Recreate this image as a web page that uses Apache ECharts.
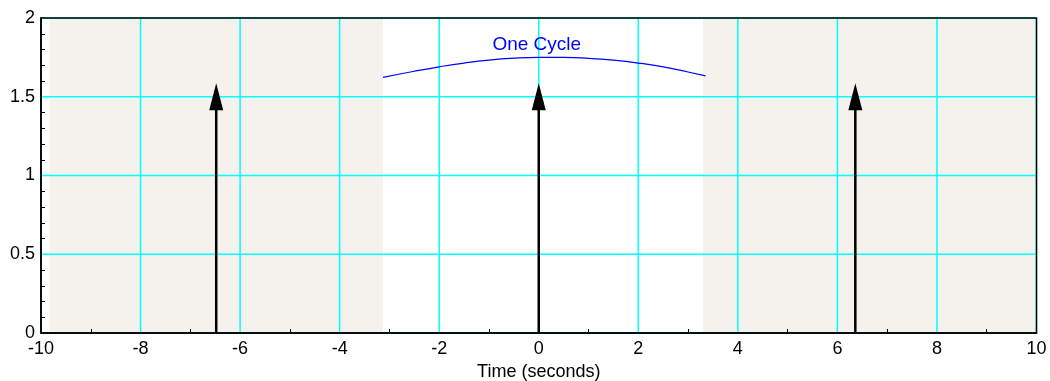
<!DOCTYPE html>
<html><head><meta charset="utf-8">
<script src="https://cdn.jsdelivr.net/npm/echarts@6/dist/echarts.min.js"></script>
<style>html,body{margin:0;padding:0;background:#fff;overflow:hidden}#c{width:1050px;height:381px}</style>
</head><body><div id="c"></div>
<script>
// ---- data ----
const xMin = -10, xMax = 10, yMin = 0, yMax = 2;
const xGrid = [-10, -8, -6, -4, -2, 0, 2, 4, 6, 8, 10];
const yGrid = [0, 0.5, 1, 1.5, 2];
const shadeStart = [-9.83, 3.30];
const shadeEnd   = [-3.13, 10];
const arrowX   = [-6.48, 0, 6.36];
const arrowTop = [1.585, 1.585, 1.585];
const curveX = [-3.13, -2.5, -2, -1.5, -1, -0.5, 0, 0.5, 1, 1.5, 2, 2.5, 3, 3.35];
const curveY = [1.623, 1.662, 1.690, 1.714, 1.733, 1.745, 1.750, 1.750, 1.744, 1.732, 1.714, 1.690, 1.657, 1.633];
const labelText = ['One Cycle'];
const labelX = [-0.04];
const labelY = [1.83];
const axisName = 'Time (seconds)';

const FONT = "'Liberation Sans', Arial, Helvetica, sans-serif";
const chart = echarts.init(document.getElementById('c'), null, {renderer: 'canvas', devicePixelRatio: 1});

const shadeData = shadeStart.map((s, i) => [s, shadeEnd[i]]);
const arrowData = arrowX.map((x, i) => [x, arrowTop[i]]);
const curveData = curveX.map((x, i) => [x, curveY[i]]);
const labelData = labelText.map((t, i) => [labelX[i], labelY[i], t]);
const gridData = xGrid.map(v => [0, v]).concat(yGrid.map(v => [1, v]));

chart.setOption({
  animation: false,
  backgroundColor: '#ffffff',
  grid: {left: 41, right: 13.5, top: 18, bottom: 48, containLabel: false, outerBoundsMode: 'none'},
  xAxis: {
    type: 'value', min: xMin, max: xMax, interval: 2, z: 1,
    axisLine: {show: true, onZero: false, lineStyle: {color: '#000', width: 1.5}},
    axisTick: {show: false, inside: true, length: 4},
    minorTick: {show: true, splitNumber: 2, length: 4, lineStyle: {color: '#000', width: 1}},
    axisLabel: {color: '#000', fontSize: 18, fontFamily: FONT, margin: 7},
    splitLine: {show: false},
    minorSplitLine: {show: false},
    name: axisName, nameLocation: 'middle', nameGap: 30,
    nameTextStyle: {color: '#000', fontSize: 18, fontFamily: FONT}
  },
  yAxis: {
    type: 'value', min: yMin, max: yMax, interval: 0.5, z: 1,
    axisLine: {show: true, onZero: false, lineStyle: {color: '#000', width: 1.5}},
    axisTick: {show: false, inside: true, length: 4},
    minorTick: {show: true, splitNumber: 5, length: 4, lineStyle: {color: '#000', width: 1}},
    axisLabel: {color: '#000', fontSize: 18, fontFamily: FONT, margin: 6},
    splitLine: {show: false},
    minorSplitLine: {show: false}
  },
  series: [{
    type: 'custom', z: 0, silent: true,
    data: shadeData,
    renderItem: function (params, api) {
      const p1 = api.coord([api.value(0), yMax]);
      const p2 = api.coord([api.value(1), yMin]);
      return {type: 'rect', shape: {x: p1[0], y: p1[1], width: p2[0] - p1[0], height: p2[1] - p1[1]},
              style: {fill: '#f5f2ed'}};
    }
  }, {
    type: 'custom', z: 1, silent: true,
    data: gridData,
    renderItem: function (params, api) {
      const isY = api.value(0) === 1, v = api.value(1);
      const a = isY ? api.coord([xMin, v]) : api.coord([v, yMin]);
      const b = isY ? api.coord([xMax, v]) : api.coord([v, yMax]);
      return {type: 'line', shape: {x1: a[0], y1: a[1], x2: b[0], y2: b[1]},
              style: {stroke: '#00ffff', lineWidth: 1.5}};
    }
  }, {
    type: 'line', z: 4, data: curveData, smooth: true, showSymbol: false, silent: true,
    lineStyle: {color: '#0000ff', width: 1.2}
  }, {
    type: 'custom', z: 5, silent: true,
    data: arrowData,
    renderItem: function (params, api) {
      const base = api.coord([api.value(0), yMin]);
      const tip = api.coord([api.value(0), api.value(1)]);
      const headLen = 27, headW = 7;
      return {type: 'group', children: [
        {type: 'line', shape: {x1: base[0], y1: base[1], x2: tip[0], y2: tip[1] + headLen - 2},
         style: {stroke: '#000', lineWidth: 2.5}},
        {type: 'polygon', shape: {points: [[tip[0], tip[1]], [tip[0] - headW, tip[1] + headLen], [tip[0] + headW, tip[1] + headLen]]},
         style: {fill: '#000'}}
      ]};
    }
  }, {
    type: 'custom', z: 6, silent: true,
    data: labelData,
    renderItem: function (params, api) {
      const p = api.coord([api.value(0), api.value(1)]);
      return {type: 'text', x: p[0], y: p[1],
        style: {text: labelText[params.dataIndex], fill: '#0000ff', fontSize: 19, fontFamily: FONT,
                align: 'center', verticalAlign: 'middle'}};
    }
  }, {
    type: 'custom', z: 7, silent: true,
    data: [[xMin, yMax, xMax, yMin]],
    renderItem: function (params, api) {
      const p1 = api.coord([api.value(0), api.value(1)]);
      const p2 = api.coord([api.value(2), api.value(3)]);
      return {type: 'rect', shape: {x: p1[0], y: p1[1], width: p2[0] - p1[0], height: p2[1] - p1[1]},
              style: {fill: null, stroke: '#000', lineWidth: 1.5}};
    }
  }]
});
</script>
</body></html>
